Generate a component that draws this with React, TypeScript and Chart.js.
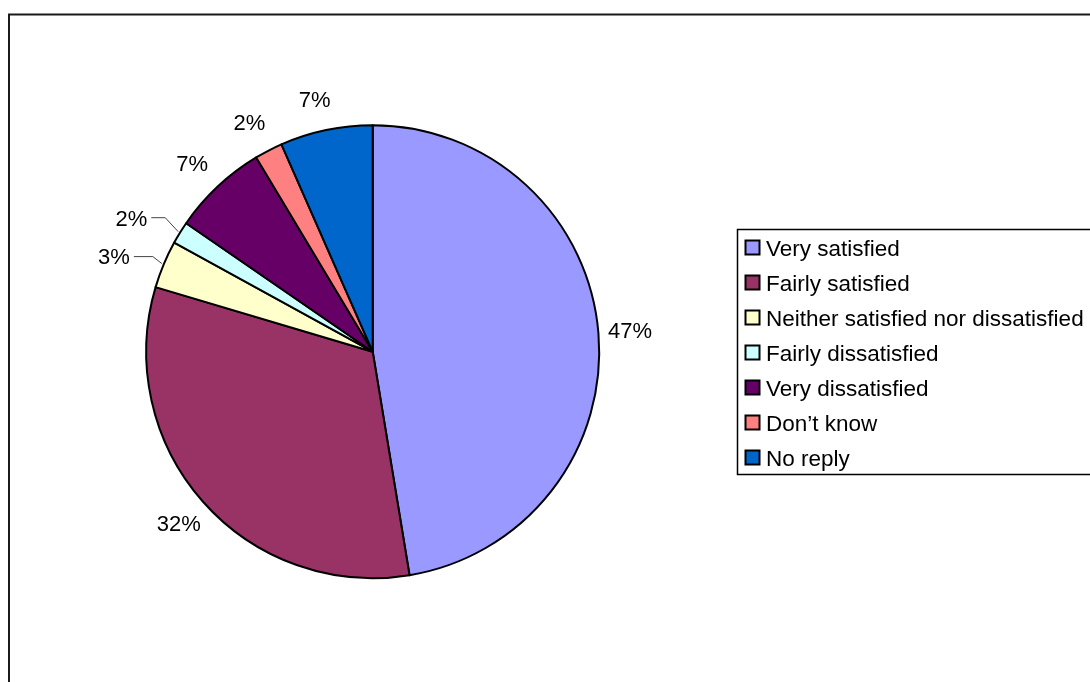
import React, { useEffect, useRef } from "react";
import { Chart, registerables } from "chart.js";

Chart.register(...registerables);

const categories = [
  "Very satisfied",
  "Fairly satisfied",
  "Neither satisfied nor dissatisfied",
  "Fairly dissatisfied",
  "Very dissatisfied",
  "Don\u2019t know",
  "No reply",
];
const values = [47.4, 32.2, 3.4, 1.6, 6.8, 2.0, 6.6];
const colors = ["#9999FF", "#993366", "#FFFFCC", "#CCFFFF", "#660066", "#FF8080", "#0066CC"];

const FONT = '"Liberation Sans", Arial, sans-serif';
const FONT_SIZE = 22;
const LEGEND_FONT_SIZE = 22.5;

// leader lines for the crowded small slices: [elbowDx, elbowDy, horizontal length]
const leaders: Record<number, [number, number, number]> = {
  2: [-9, -7, -19],
  3: [-13, -14, -14],
};

const framePlugin = {
  id: "frame",
  beforeDraw(chart: any) {
    const ctx = chart.ctx;
    ctx.save();
    ctx.fillStyle = "#ffffff";
    ctx.fillRect(0, 0, chart.width, chart.height);
    ctx.strokeStyle = "#1a1a1a";
    ctx.lineWidth = 2;
    ctx.strokeRect(9, 14.5, chart.width + 20, chart.height + 20);
    ctx.restore();
  },
};

const labelPlugin = {
  id: "pieLabels",
  afterDatasetsDraw(chart: any) {
    const ctx = chart.ctx;
    const meta = chart.getDatasetMeta(0);
    const data = chart.data.datasets[0].data as number[];
    const total = data.reduce((a, b) => a + b, 0);
    ctx.save();
    ctx.font = `${FONT_SIZE}px ${FONT}`;
    ctx.fillStyle = "#000";
    ctx.textBaseline = "alphabetic";
    const capHalf = FONT_SIZE * 0.358;
    meta.data.forEach((arc: any, i: number) => {
      const { x, y, startAngle, endAngle, outerRadius } = arc.getProps(
        ["x", "y", "startAngle", "endAngle", "outerRadius"],
        true
      );
      const mid = (startAngle + endAngle) / 2;
      const c = Math.cos(mid);
      const s = Math.sin(mid);
      const text = Math.round((data[i] / total) * 100) + "%";
      const lead = leaders[i];
      if (lead) {
        const ex = x + c * (outerRadius + 2);
        const ey = y + s * (outerRadius + 2);
        const bx = ex + lead[0];
        const by = ey + lead[1];
        const endX = bx + lead[2];
        ctx.strokeStyle = "#444";
        ctx.lineWidth = 1;
        ctx.beginPath();
        ctx.moveTo(ex, ey);
        ctx.lineTo(bx, by);
        ctx.lineTo(endX, by);
        ctx.stroke();
        ctx.textAlign = "right";
        ctx.fillText(text, endX - 4, by + capHalf);
      } else {
        const d = outerRadius + 32;
        ctx.textAlign = "center";
        ctx.fillText(text, x + c * d - Math.max(0, -s) * 5, y + s * d + capHalf);
      }
    });
    ctx.restore();
  },
};

const legendPlugin = {
  id: "boxLegend",
  afterDraw(chart: any) {
    const ctx = chart.ctx;
    const labels = chart.data.labels as string[];
    const bg = chart.data.datasets[0].backgroundColor as string[];
    const left = 737.5;
    const top = 229.5;
    const rowH = 35;
    const height = rowH * labels.length;
    ctx.save();
    ctx.strokeStyle = "#000";
    ctx.lineWidth = 1.5;
    ctx.strokeRect(left, top, 420, height);
    ctx.font = `${LEGEND_FONT_SIZE}px ${FONT}`;
    ctx.textAlign = "left";
    ctx.textBaseline = "alphabetic";
    labels.forEach((lab, i) => {
      const cy = top + 18 + i * rowH;
      ctx.fillStyle = bg[i];
      ctx.fillRect(745.5, cy - 7, 14, 14);
      ctx.lineWidth = 2;
      ctx.strokeStyle = "#000";
      ctx.strokeRect(745.5, cy - 7, 14, 14);
      ctx.fillStyle = "#000";
      ctx.fillText(lab, 766, cy + LEGEND_FONT_SIZE * 0.358);
    });
    ctx.restore();
  },
};

export default function App() {
  const ref = useRef<HTMLCanvasElement | null>(null);
  useEffect(() => {
    if (!ref.current) return;
    const chart = new Chart(ref.current, {
      type: "pie",
      data: {
        labels: categories,
        datasets: [
          {
            data: values,
            backgroundColor: colors,
            borderColor: "#000",
            borderWidth: 2,
            borderJoinStyle: "round",
          } as any,
        ],
      },
      options: {
        responsive: false,
        animation: false,
        devicePixelRatio: 1,
        radius: 226.5,
        layout: {
          padding: { left: 100, right: 444.6, top: 100, bottom: 78.6 },
        },
        plugins: {
          legend: { display: false },
          tooltip: { enabled: false },
          title: { display: false },
        },
        events: [],
      } as any,
      plugins: [framePlugin, labelPlugin, legendPlugin],
    });
    return () => chart.destroy();
  }, []);
  return (
    <div style={{ position: "fixed", left: 0, top: 0, width: 1090, height: 682, background: "#fff" }}>
      <canvas ref={ref} width={1090} height={682} style={{ width: 1090, height: 682, display: "block" }} />
    </div>
  );
}
